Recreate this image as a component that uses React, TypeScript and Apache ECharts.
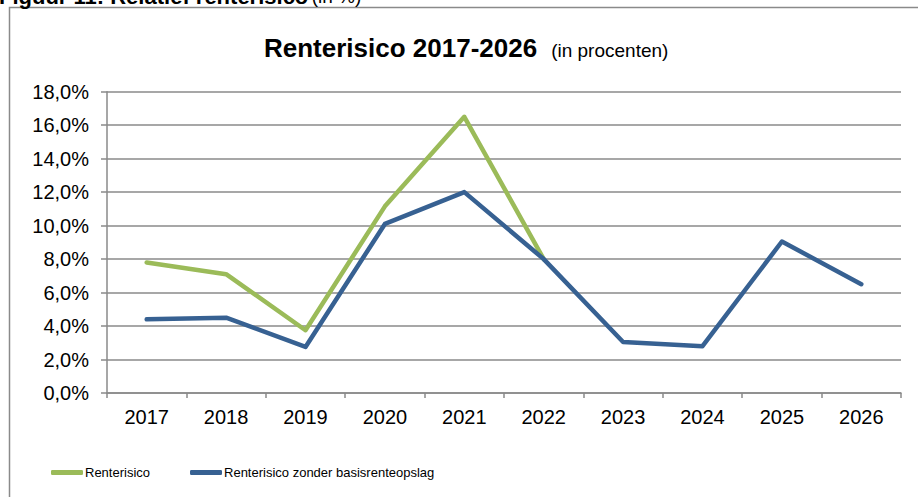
import React, { useEffect, useRef } from "react";
import * as echarts from "echarts";

const years = ["2017", "2018", "2019", "2020", "2021", "2022", "2023", "2024", "2025", "2026"];
const renterisico = [7.8, 7.1, 3.75, 11.15, 16.5, 8.0, null, null, null, null];
const zonderOpslag = [4.4, 4.5, 2.75, 10.1, 12.0, 8.0, 3.05, 2.8, 9.05, 6.5];
const yTicks = { min: 0, max: 18, interval: 2 };
const seriesNames = ["Renterisico", "Renterisico zonder basisrenteopslag"];

export default function App() {
  const ref = useRef<HTMLDivElement>(null);
  useEffect(() => {
    const chart = echarts.init(ref.current!, null, { renderer: "svg" });
    const font = "Arial, 'Liberation Sans', sans-serif";
    chart.setOption({
      animation: false,
      backgroundColor: "#ffffff",
      textStyle: { fontFamily: font },
      graphic: [
        {
          type: "rect",
          shape: { x: 9.5, y: 7.5, width: 1000, height: 1000 },
          style: { fill: "none", stroke: "#8a8a8a", lineWidth: 1.5 },
          silent: true,
        },
        {
          type: "text",
          x: -1,
          y: 7,
          style: {
            text: "{b|Figuur 11: Relatief renterisico} {n|(in %)}",
            verticalAlign: "bottom",
            rich: {
              b: { fontFamily: font, fontWeight: "bold", fontSize: 22, fill: "#000" },
              n: { fontFamily: font, fontWeight: "normal", fontSize: 19, fill: "#000" },
            },
          },
        },
      ],
      title: {
        text: "{b|Renterisico 2017-2026}{n|(in procenten)}",
        left: 259,
        top: 30,
        textStyle: {
          rich: {
            b: { fontFamily: font, fontWeight: "bold", fontSize: 26, color: "#000" },
            n: { fontFamily: font, fontWeight: "normal", fontSize: 19, color: "#000", padding: [4, 0, 0, 14] },
          },
        },
      },
      legend: {
        left: 46,
        top: 461,
        itemWidth: 32,
        itemHeight: 5,
        itemGap: 40,
        icon: "roundRect",
        textStyle: {
          fontFamily: font,
          fontSize: 13,
          color: "#000",
          padding: [0, 0, 0, -3],
        },
        data: seriesNames,
      },
      grid: { left: 107, right: 17, top: 91.7, bottom: 104 },
      xAxis: {
        type: "category",
        data: years,
        boundaryGap: true,
        axisLine: { lineStyle: { color: "#8a8a8a", width: 1.5 } },
        axisTick: { show: true, length: 5, lineStyle: { color: "#8a8a8a", width: 1.5 } },
        axisLabel: { color: "#000", fontSize: 20, margin: 14, fontFamily: font },
      },
      yAxis: {
        type: "value",
        min: yTicks.min,
        max: yTicks.max,
        interval: yTicks.interval,
        axisLine: { show: true, lineStyle: { color: "#8a8a8a", width: 1.5 } },
        axisTick: { show: true, length: 6, lineStyle: { color: "#8a8a8a", width: 1.5 } },
        splitLine: { show: true, lineStyle: { color: "#8a8a8a", width: 1.5 } },
        axisLabel: {
          color: "#000",
          fontSize: 20,
          margin: 18,
          fontFamily: font,
          formatter: (v: number) => v.toFixed(1).replace(".", ",") + "%",
        },
      },
      series: [
        {
          name: seriesNames[0],
          type: "line",
          data: renterisico,
          symbol: "none",
          lineStyle: { color: "#9BBB59", width: 4.5, cap: "round", join: "round" },
          itemStyle: { color: "#9BBB59" },
          z: 2,
        },
        {
          name: seriesNames[1],
          type: "line",
          data: zonderOpslag,
          symbol: "none",
          lineStyle: { color: "#376192", width: 4.5, cap: "round", join: "round" },
          itemStyle: { color: "#376192" },
          z: 3,
        },
      ],
    });
    return () => chart.dispose();
  }, []);
  return <div ref={ref} style={{ width: 918, height: 497, position: "absolute", left: 0, top: 0 }} />;
}
